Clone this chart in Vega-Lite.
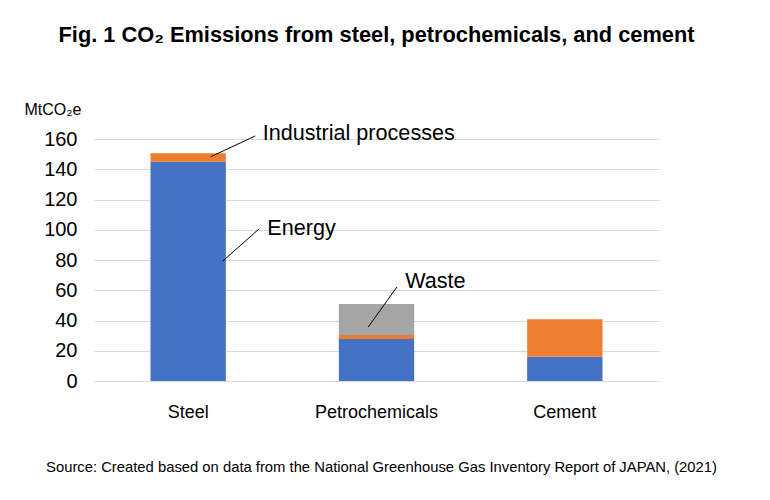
{
  "$schema": "https://vega.github.io/schema/vega-lite/v6.json",
  "width": 565,
  "height": 242,
  "autosize": {"type": "none"},
  "padding": {"left": 94, "top": 139, "right": 111, "bottom": 119},
  "background": "white",
  "title": {
    "text": "Fig. 1 CO₂ Emissions from steel, petrochemicals, and cement",
    "font": "Liberation Sans",
    "fontSize": 21.8,
    "fontWeight": "bold",
    "color": "#000000",
    "anchor": "middle",
    "offset": 54
  },
  "config": {
    "view": {"stroke": null},
    "font": "Liberation Sans",
    "axisY": {
      "domain": false,
      "ticks": false,
      "labelFontSize": 20,
      "labelPadding": 17,
      "labelColor": "#000000",
      "grid": true,
      "gridColor": "#D9D9D9",
      "gridWidth": 1,
      "values": [0, 20, 40, 60, 80, 100, 120, 140, 160],
      "titleAngle": 0,
      "titleAlign": "left",
      "titleBaseline": "alphabetic",
      "titleX": -70,
      "titleY": -25,
      "titleFontSize": 16,
      "titleFontWeight": "normal",
      "titleColor": "#000000"
    },
    "axisX": {
      "domain": false,
      "ticks": false,
      "grid": false,
      "labelAngle": 0,
      "labelFontSize": 18,
      "labelPadding": 22,
      "labelColor": "#000000",
      "titleFontSize": 14.8,
      "titleFontWeight": "normal",
      "titleColor": "#000000",
      "titlePadding": 38,
      "titleX": 287,
      "titleAlign": "center"
    }
  },
  "datasets": {
    "bars": [
      {"category": "Steel", "source": "Energy", "value": 145.0},
      {"category": "Steel", "source": "Industrial processes", "value": 5.5},
      {"category": "Petrochemicals", "source": "Energy", "value": 27.8},
      {"category": "Petrochemicals", "source": "Industrial processes", "value": 2.6},
      {"category": "Petrochemicals", "source": "Waste", "value": 20.5},
      {"category": "Cement", "source": "Energy", "value": 16.1},
      {"category": "Cement", "source": "Industrial processes", "value": 24.7}
    ],
    "noteIP": [{"category": "Steel", "label": "Industrial processes", "from": 148.3, "to": 162, "at": 159.3}],
    "noteEnergy": [{"category": "Steel", "label": "Energy", "from": 79.3, "to": 100.5, "at": 96.5}],
    "noteWaste": [{"category": "Petrochemicals", "label": "Waste", "from": 35.7, "to": 62.1, "at": 61.5}]
  },
  "layer": [
    {
      "data": {"name": "bars"},
      "mark": {"type": "bar"},
      "encoding": {
        "x": {
          "field": "category",
          "type": "nominal",
          "sort": ["Steel", "Petrochemicals", "Cement"],
          "scale": {"paddingInner": 0.6, "paddingOuter": 0.3},
          "title": "Source: Created based on data from the National Greenhouse Gas Inventory Report of JAPAN, (2021)"
        },
        "y": {
          "field": "value",
          "type": "quantitative",
          "aggregate": "sum",
          "stack": "zero",
          "scale": {"domain": [0, 160], "nice": false},
          "title": "MtCO₂e"
        },
        "color": {
          "field": "source",
          "type": "nominal",
          "scale": {
            "domain": ["Energy", "Industrial processes", "Waste"],
            "range": ["#4472C4", "#ED7D31", "#A5A5A5"]
          },
          "legend": null
        },
        "order": {"field": "source", "sort": "ascending"}
      }
    },
    {
      "data": {"name": "noteIP"},
      "mark": {"type": "rule", "color": "#000000", "strokeWidth": 1},
      "encoding": {
        "x": {"field": "category", "type": "nominal", "sort": ["Steel", "Petrochemicals", "Cement"], "bandPosition": 0.80},
        "x2": {"field": "category", "bandPosition": 1.39},
        "y": {"field": "from", "type": "quantitative"},
        "y2": {"field": "to"}
      }
    },
    {
      "data": {"name": "noteIP"},
      "mark": {"type": "text", "align": "left", "baseline": "alphabetic", "fontSize": 21.6, "color": "#000000"},
      "encoding": {
        "x": {"field": "category", "type": "nominal", "sort": ["Steel", "Petrochemicals", "Cement"], "bandPosition": 1.49},
        "y": {"field": "at", "type": "quantitative"},
        "text": {"field": "label"}
      }
    },
    {
      "data": {"name": "noteEnergy"},
      "mark": {"type": "rule", "color": "#000000", "strokeWidth": 1},
      "encoding": {
        "x": {"field": "category", "type": "nominal", "sort": ["Steel", "Petrochemicals", "Cement"], "bandPosition": 0.96},
        "x2": {"field": "category", "bandPosition": 1.44},
        "y": {"field": "from", "type": "quantitative"},
        "y2": {"field": "to"}
      }
    },
    {
      "data": {"name": "noteEnergy"},
      "mark": {"type": "text", "align": "left", "baseline": "alphabetic", "fontSize": 21.6, "color": "#000000"},
      "encoding": {
        "x": {"field": "category", "type": "nominal", "sort": ["Steel", "Petrochemicals", "Cement"], "bandPosition": 1.55},
        "y": {"field": "at", "type": "quantitative"},
        "text": {"field": "label"}
      }
    },
    {
      "data": {"name": "noteWaste"},
      "mark": {"type": "rule", "color": "#000000", "strokeWidth": 1},
      "encoding": {
        "x": {"field": "category", "type": "nominal", "sort": ["Steel", "Petrochemicals", "Cement"], "bandPosition": 0.39},
        "x2": {"field": "category", "bandPosition": 0.77},
        "y": {"field": "from", "type": "quantitative"},
        "y2": {"field": "to"}
      }
    },
    {
      "data": {"name": "noteWaste"},
      "mark": {"type": "text", "align": "left", "baseline": "alphabetic", "fontSize": 21.6, "color": "#000000"},
      "encoding": {
        "x": {"field": "category", "type": "nominal", "sort": ["Steel", "Petrochemicals", "Cement"], "bandPosition": 0.88},
        "y": {"field": "at", "type": "quantitative"},
        "text": {"field": "label"}
      }
    }
  ]
}
